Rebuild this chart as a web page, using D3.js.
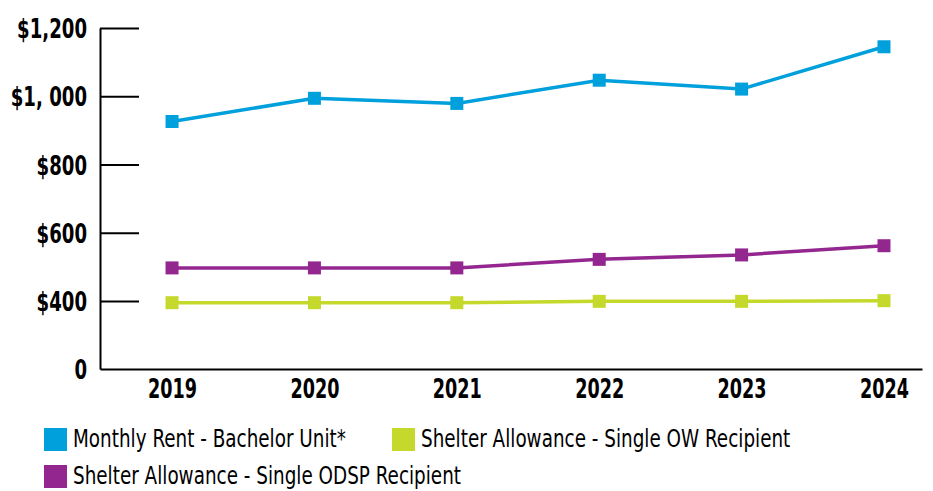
<!DOCTYPE html>
<html>
<head>
<meta charset="utf-8">
<script src="https://cdn.jsdelivr.net/npm/d3@7"></script>
<style>
  body { margin: 0; background: #fff; }
  svg { display: block; }
  .axis text { font-family: "DejaVu Sans Condensed", "DejaVu Sans", sans-serif; font-stretch: condensed; font-weight: bold; fill: #000; }
  .legend text { font-family: "DejaVu Sans Condensed", "DejaVu Sans", sans-serif; font-stretch: condensed; fill: #000; }
</style>
</head>
<body>
<div class="svg-container"></div>
<script>
document.addEventListener("DOMContentLoaded", () => {

  let years = [2019, 2020, 2021, 2022, 2023, 2024];
  let rentBachelor = [926, 994, 979, 1047, 1021, 1145];
  let shelterOW = [390, 390, 390, 398, 398, 401];
  let shelterODSP = [497, 497, 497, 522, 535, 562];
  let yTicks = [0, 400, 600, 800, 1000, 1200];
  let yTickLabels = ["0", "$400", "$600", "$800", "$1, 000", "$1,200"];
  let seriesNames = ["Monthly Rent - Bachelor Unit*", "Shelter Allowance - Single OW Recipient", "Shelter Allowance - Single ODSP Recipient"];

  let colors = ["#00A0DC", "#C5D92D", "#93278F"];
  let width = 933, height = 491;

  let series = [
    { name: seriesNames[0], values: rentBachelor, color: colors[0] },
    { name: seriesNames[1], values: shelterOW, color: colors[1] },
    { name: seriesNames[2], values: shelterODSP, color: colors[2] }
  ];

  let svg = d3.select(".svg-container").append("svg")
    .attr("width", width)
    .attr("height", height);

  // squeeze text horizontally so it looks like a condensed face
  const squeeze = (sel, ref, target) => {
    let f = 1;
    sel.each(function () {
      if (this.textContent === ref) f = target / this.getComputedTextLength();
    });
    return f;
  };

  // axis is not linear below 400 in the original
  const yScale = d3.scaleLinear()
    .domain([0, 400, 1200])
    .range([369, 301, 28]);

  const xScale = d3.scaleLinear()
    .domain([2018.494, 2024.267])
    .range([100, 922]);

  //y axis, ticks point inward
  const yAxis = d3.axisLeft(yScale)
    .tickValues(yTicks)
    .tickFormat((d, i) => yTickLabels[i])
    .tickSizeInner(-39)
    .tickSizeOuter(0)
    .tickPadding(13);

  let gy = svg.append("g")
    .attr("class", "axis")
    .attr("transform", "translate(100,0)")
    .call(yAxis);
  gy.select(".domain").attr("stroke", "#000").attr("stroke-width", 2);
  gy.selectAll(".tick line").attr("stroke", "#000").attr("stroke-width", 2);
  gy.selectAll(".tick line").filter(d => d === 0).remove();
  let yText = gy.selectAll(".tick text").attr("font-size", 27).attr("dy", "0.36em");
  let fy = squeeze(yText, "$1,200", 70);
  yText.attr("x", -13 / fy).attr("transform", "scale(" + fy + ",1)");

  //x axis
  const xAxis = d3.axisBottom(xScale)
    .tickValues(years)
    .tickFormat(d3.format("d"))
    .tickSize(0)
    .tickPadding(10);

  let gx = svg.append("g")
    .attr("class", "axis")
    .attr("transform", "translate(0,369)")
    .call(xAxis);
  gx.select(".domain").attr("stroke", "#000").attr("stroke-width", 2);
  let xText = gx.selectAll(".tick text").attr("font-size", 27).attr("dy", "0.71em");
  let fx = squeeze(xText, "2019", 49);
  xText.attr("transform", "scale(" + fx + ",1)");

  //lines
  const line = d3.line()
    .x((d, i) => xScale(years[i]))
    .y(d => yScale(d));

  series.forEach(s => {
    svg.append("path")
      .datum(s.values)
      .attr("d", line)
      .attr("fill", "none")
      .attr("stroke", s.color)
      .attr("stroke-width", 3.5);

    svg.selectAll(null)
      .data(s.values)
      .enter()
      .append("rect")
      .attr("x", (d, i) => xScale(years[i]) - 6.5)
      .attr("y", d => yScale(d) - 6.5)
      .attr("width", 13)
      .attr("height", 13)
      .attr("fill", s.color);
  });

  //legend
  let legendPos = [[44, 428], [392, 428], [44, 465]];
  let legend = svg.append("g").attr("class", "legend");
  series.forEach((s, i) => {
    let g = legend.append("g")
      .attr("transform", "translate(" + legendPos[i][0] + "," + legendPos[i][1] + ")");
    g.append("rect")
      .attr("width", 23)
      .attr("height", 23)
      .attr("fill", s.color);
    g.append("text")
      .attr("font-size", 24.5)
      .text(s.name);
  });
  let lText = legend.selectAll("text");
  let fl = squeeze(lText, seriesNames[0], 273);
  lText.attr("transform", "translate(29,19) scale(" + fl + ",1)");

});
</script>
</body>
</html>
